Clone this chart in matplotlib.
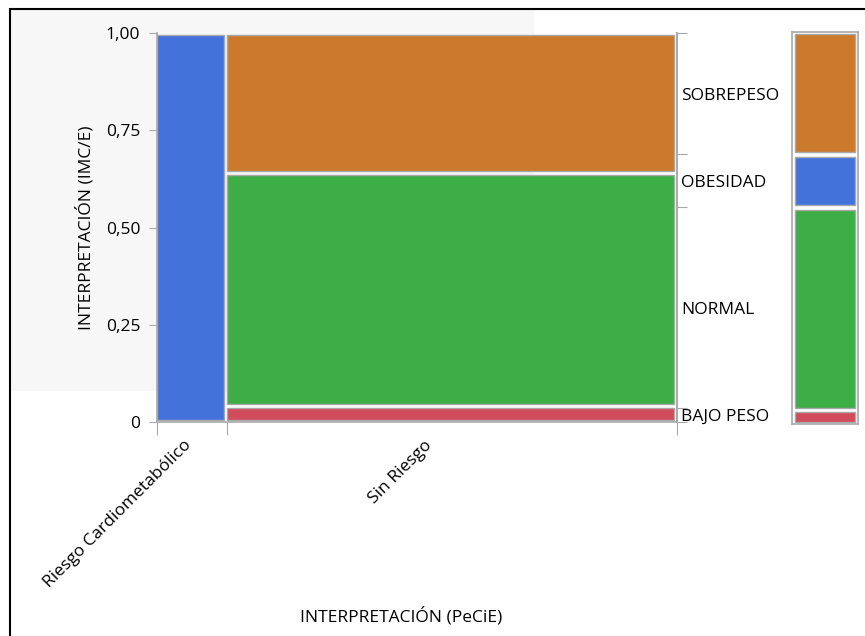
import matplotlib
matplotlib.use('agg')
import matplotlib.pyplot as plt
import matplotlib.transforms as mtransforms
from matplotlib.patches import Rectangle
from matplotlib.ticker import FixedLocator, NullFormatter

plt.rcParams['font.family'] = ['Open Sans', 'DejaVu Sans']

# data: counts per PeCiE group and IMC/E interpretation
groups = ['Riesgo Cardiometabólico', 'Sin Riesgo']
levels = ['BAJO PESO', 'NORMAL', 'OBESIDAD', 'SOBREPESO']
counts = {
    'Riesgo Cardiometabólico': [0, 0, 19, 0],
    'Sin Riesgo': [5, 73, 0, 44],
}
colors = {'BAJO PESO': '#D24B5A', 'NORMAL': '#3DAE46',
          'OBESIDAD': '#4472DB', 'SOBREPESO': '#CB7A2B'}
edge = '#a8a8a8'
fs = 12.5

W, H = 865, 636
fig = plt.figure(figsize=(W / 100, H / 100), dpi=100)

def fbox(x0, y0, x1, y1):
    # pixel box (top-left origin) -> figure fraction rect
    return [x0 / W, 1 - y1 / H, (x1 - x0) / W, (y1 - y0) / H]

# light grey backdrop and black frame
fig.patches.append(Rectangle((11 / W, 1 - 390 / H), 522 / W, 380 / H,
                             transform=fig.transFigure, color='#f7f7f7', zorder=-5))
fig.patches.append(Rectangle((10 / W, -0.1), 1.2, 1 - 9 / H + 0.1,
                             transform=fig.transFigure, fill=False,
                             edgecolor='black', linewidth=1.5, zorder=5))

ax = fig.add_axes(fbox(157, 33, 677, 422))
ax.set_facecolor('none')

totals = [sum(counts[g]) for g in groups]
grand = sum(totals)
gx, gy = 0.006, 0.010

left = 0.0
bounds = [0.0]
centers = []
for g, t in zip(groups, totals):
    w = t / grand
    bottom = 0.0
    for lev, c in zip(levels, counts[g]):
        h = c / t
        if c > 0:
            ax.bar(left, h - gy, width=w - gx, bottom=bottom + gy / 2, align='edge',
                   color=colors[lev], edgecolor=edge, linewidth=1)
        bottom += h
    centers.append(left + w / 2)
    left += w
    bounds.append(left)

ax.set_xlim(0, 1)
ax.set_ylim(0, 1)
ax.spines['top'].set_visible(False)
for s in ['left', 'bottom', 'right']:
    ax.spines[s].set_color(edge)
    ax.spines[s].set_linewidth(1.2)

ax.set_yticks([0, 0.25, 0.5, 0.75, 1.0])
ax.set_yticklabels(['0', '0,25', '0,50', '0,75', '1,00'])
ax.tick_params(axis='y', length=6, color=edge, labelsize=fs, pad=6)

ax.xaxis.set_major_locator(FixedLocator(bounds))
ax.xaxis.set_major_formatter(NullFormatter())
ax.xaxis.set_minor_locator(FixedLocator(centers))
ax.set_xticklabels(groups, minor=True, rotation=45, ha='right', va='top',
                   rotation_mode='anchor', fontsize=fs)
ax.tick_params(axis='x', which='major', length=9, color=edge)
ax.tick_params(axis='x', which='minor', length=0, pad=11)
# nudge the category labels left like JMP does
for lab, dx in zip(ax.get_xticklabels(minor=True), [-9, -28]):
    lab.set_transform(lab.get_transform() + mtransforms.ScaledTranslation(dx / 100, 0, fig.dpi_scale_trans))

ax.set_ylabel('INTERPRETACIÓN (IMC/E)', fontsize=fs, labelpad=8)
fig.text(401 / W, 1 - 616 / H, 'INTERPRETACIÓN (PeCiE)', ha='center', va='center', fontsize=fs)

# marginal shares on right side
level_tot = [sum(counts[g][i] for g in groups) for i in range(len(levels))]
cum = [0.0]
for v in level_tot:
    cum.append(cum[-1] + v / grand)
mids = [(a + b) / 2 for a, b in zip(cum[:-1], cum[1:])]

ax2 = ax.twinx()
ax2.set_ylim(0, 1)
for s in ['top', 'left', 'bottom']:
    ax2.spines[s].set_visible(False)
ax2.spines['right'].set_color(edge)
ax2.spines['right'].set_linewidth(1.2)
ax2.yaxis.set_major_locator(FixedLocator(cum))
ax2.yaxis.set_major_formatter(NullFormatter())
ax2.yaxis.set_minor_locator(FixedLocator(mids))
ax2.set_yticklabels(levels, minor=True, fontsize=fs)
ax2.tick_params(axis='y', which='major', length=7, color=edge)
ax2.tick_params(axis='y', which='minor', length=0, pad=3)

# marginal bar
axm = fig.add_axes(fbox(792, 32, 858, 424))
axm.set_xlim(0, 1)
axm.set_ylim(0, 1)
axm.set_facecolor('none')
for s in axm.spines.values():
    s.set_color(edge)
    s.set_linewidth(1.2)
axm.set_xticks([])
axm.set_yticks([])
for lev, a, b in zip(levels, cum[:-1], cum[1:]):
    axm.bar(0.05, b - a - 0.012, width=0.9, bottom=a + 0.006, align='edge',
            color=colors[lev], edgecolor=edge, linewidth=1)

fig.savefig('out.png', dpi=100)
